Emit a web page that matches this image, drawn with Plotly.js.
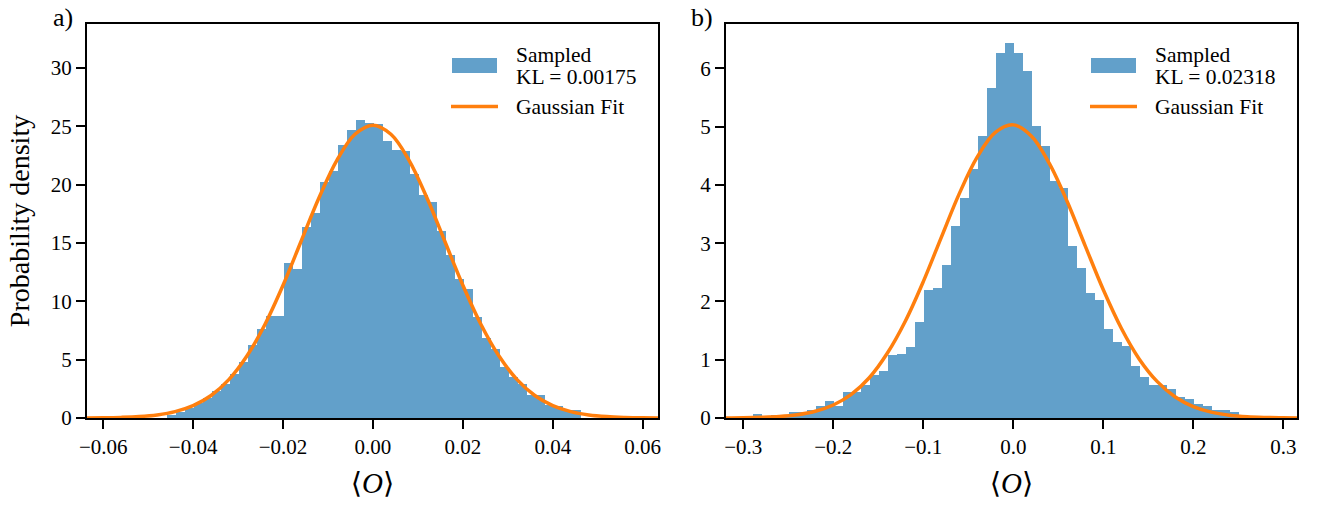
<!DOCTYPE html>
<html>
<head>
<meta charset="utf-8">
<script src="https://cdn.plot.ly/plotly-3.0.1.min.js"></script>
<style>
  html, body { margin: 0; padding: 0; background: #ffffff; }
  #chart { width: 1318px; height: 506px; }
</style>
</head>
<body>
<div id="chart"></div>
<script>
// ---------------- data: panel a) ----------------
var aBinCenters = [-0.0448, -0.0428, -0.0408, -0.0388, -0.0368, -0.0348, -0.0328, -0.0308, -0.0288, -0.0268,
                   -0.0248, -0.0228, -0.0208, -0.0188, -0.0168, -0.0148, -0.0128, -0.0108, -0.0088, -0.0068,
                   -0.0048, -0.0028, -0.0008, 0.0012, 0.0032, 0.0052, 0.0072, 0.0092, 0.0112, 0.0132,
                   0.0152, 0.0172, 0.0192, 0.0212, 0.0232, 0.0252, 0.0272, 0.0292, 0.0312, 0.0332,
                   0.0352, 0.0372, 0.0392, 0.0412, 0.0432, 0.0452];
var aDensity = [0.30, 0.55, 0.90, 1.25, 1.75, 2.31, 2.91, 3.74, 4.77, 6.26,
                7.60, 8.74, 8.74, 13.26, 12.77, 16.40, 17.54, 20.26, 21.20, 23.40,
                24.69, 25.54, 25.26, 25.20, 23.77, 23.00, 22.90, 20.90, 19.10, 18.50,
                16.06, 13.97, 11.90, 11.06, 8.69, 6.83, 5.89, 4.40, 3.54, 2.91,
                1.97, 1.97, 1.11, 1.05, 0.70, 0.65];
var aBinWidth = 0.002;
var aFitX = [-0.064, -0.060, -0.056, -0.052, -0.048, -0.044, -0.040, -0.036, -0.032, -0.028, -0.024,
             -0.020, -0.016, -0.012, -0.008, -0.004, 0.000, 0.004, 0.008, 0.012, 0.016, 0.020,
             0.024, 0.028, 0.032, 0.036, 0.040, 0.044, 0.048, 0.052, 0.056, 0.060, 0.064];
var aFitY = [0.008, 0.020, 0.051, 0.120, 0.263, 0.546, 1.06, 1.93, 3.31, 5.33, 8.04,
             11.38, 15.13, 18.88, 22.11, 24.32, 25.10, 24.32, 22.11, 18.88, 15.13, 11.38,
             8.04, 5.33, 3.31, 1.93, 1.06, 0.546, 0.263, 0.120, 0.051, 0.020, 0.008];
var aXTicks = [-0.06, -0.04, -0.02, 0.00, 0.02, 0.04, 0.06];
var aXTickText = ["\u22120.06", "\u22120.04", "\u22120.02", "0.00", "0.02", "0.04", "0.06"];
var aYTicks = [0, 5, 10, 15, 20, 25, 30];
var aYTickText = ["0", "5", "10", "15", "20", "25", "30"];
var aKL = "0.00175";

// ---------------- data: panel b) ----------------
var bBinCenters = [-0.294, -0.284, -0.274, -0.264, -0.254, -0.244, -0.234, -0.224, -0.214, -0.204,
                   -0.194, -0.184, -0.174, -0.164, -0.154, -0.144, -0.134, -0.124, -0.114, -0.104,
                   -0.094, -0.084, -0.074, -0.064, -0.054, -0.044, -0.034, -0.024, -0.014, -0.004,
                   0.006, 0.016, 0.026, 0.036, 0.046, 0.056, 0.066, 0.076, 0.086, 0.096,
                   0.106, 0.116, 0.126, 0.136, 0.146, 0.156, 0.166, 0.176, 0.186, 0.196,
                   0.206, 0.216, 0.226, 0.236, 0.246, 0.256];
var bDensity = [0.04, 0.07, 0.04, 0.05, 0.06, 0.10, 0.10, 0.13, 0.20, 0.29,
                0.21, 0.44, 0.44, 0.57, 0.73, 0.80, 1.08, 1.10, 1.22, 1.64,
                2.20, 2.23, 2.63, 3.30, 3.78, 4.28, 4.84, 5.67, 6.26, 6.43,
                6.26, 5.95, 5.01, 4.67, 4.07, 3.95, 2.95, 2.58, 2.15, 2.03,
                1.52, 1.30, 1.24, 0.89, 0.70, 0.56, 0.56, 0.49, 0.36, 0.32,
                0.24, 0.20, 0.14, 0.13, 0.10, 0.04];
var bBinWidth = 0.01;
var bFitX = [-0.32, -0.30, -0.28, -0.26, -0.24, -0.22, -0.20, -0.18, -0.16, -0.14, -0.12,
             -0.10, -0.08, -0.06, -0.04, -0.02, 0.00, 0.02, 0.04, 0.06, 0.08, 0.10,
             0.12, 0.14, 0.16, 0.18, 0.20, 0.22, 0.24, 0.26, 0.28, 0.30, 0.32];
var bFitY = [0.001, 0.004, 0.011, 0.025, 0.056, 0.115, 0.223, 0.405, 0.691, 1.11, 1.66,
             2.34, 3.10, 3.85, 4.48, 4.90, 5.03, 4.84, 4.37, 3.71, 2.95, 2.20,
             1.54, 1.01, 0.624, 0.361, 0.196, 0.100, 0.048, 0.021, 0.009, 0.004, 0.001];
var bXTicks = [-0.3, -0.2, -0.1, 0.0, 0.1, 0.2, 0.3];
var bXTickText = ["\u22120.3", "\u22120.2", "\u22120.1", "0.0", "0.1", "0.2", "0.3"];
var bYTicks = [0, 1, 2, 3, 4, 5, 6];
var bYTickText = ["0", "1", "2", "3", "4", "5", "6"];
var bKL = "0.02318";

var seriesNames = ["Sampled", "Gaussian Fit"];
var panelLabels = ["a)", "b)"];
var xTitle = "\u27E8<i>O</i>\u27E9";
var yTitle = "Probability density";

// ---------------- style / layout ----------------
var W = 1318, H = 506;
function px(x) { return x / W; }
function py(y) { return 1 - y / H; }
var FONT = "Liberation Serif, DejaVu Serif, serif";
var BAR_COLOR = "rgba(31,119,180,0.7)";
var LINE_COLOR = "#ff7f0e";

var traces = [
  { type: "bar", x: aBinCenters, y: aDensity, width: aBinWidth, xaxis: "x", yaxis: "y",
    name: seriesNames[0], marker: { color: BAR_COLOR, line: { width: 0 } }, hoverinfo: "x+y" },
  { type: "scatter", mode: "lines", x: aFitX, y: aFitY, xaxis: "x", yaxis: "y",
    name: seriesNames[1], line: { color: LINE_COLOR, width: 3.5, shape: "spline", smoothing: 1 } },
  { type: "bar", x: bBinCenters, y: bDensity, width: bBinWidth, xaxis: "x2", yaxis: "y2",
    name: seriesNames[0], marker: { color: BAR_COLOR, line: { width: 0 } }, hoverinfo: "x+y" },
  { type: "scatter", mode: "lines", x: bFitX, y: bFitY, xaxis: "x2", yaxis: "y2",
    name: seriesNames[1], line: { color: LINE_COLOR, width: 3.5, shape: "spline", smoothing: 1 } }
];

function xAxis(domain, range, vals, text) {
  return {
    domain: domain, range: range, tickmode: "array", tickvals: vals, ticktext: text,
    ticks: "outside", ticklen: 9, tickwidth: 2, tickcolor: "#000",
    showline: true, linewidth: 2, linecolor: "#000", mirror: true,
    showgrid: false, zeroline: false,
    tickfont: { family: FONT, size: 21, color: "#000" },
    title: { text: xTitle, font: { family: FONT, size: 29, color: "#000" }, standoff: 14 }
  };
}
function yAxis(domain, range, vals, text, withTitle) {
  var ax = {
    domain: domain, range: range, tickmode: "array", tickvals: vals, ticktext: text,
    ticks: "outside", ticklen: 9, tickwidth: 2, tickcolor: "#000",
    showline: true, linewidth: 2, linecolor: "#000", mirror: true,
    showgrid: false, zeroline: false,
    tickfont: { family: FONT, size: 21, color: "#000" }
  };
  if (withTitle) {
    ax.title = { text: yTitle, font: { family: FONT, size: 28, color: "#000" }, standoff: 13 };
  }
  return ax;
}

var yDom = [py(418), py(24)];
var layout = {
  width: W, height: H,
  margin: { l: 0, r: 0, t: 0, b: 0 },
  paper_bgcolor: "#ffffff", plot_bgcolor: "#ffffff",
  showlegend: false, bargap: 0, barmode: "overlay",
  font: { family: FONT, color: "#000" },
  xaxis: Object.assign(xAxis([px(87), px(658)], [-0.0636, 0.0634], aXTicks, aXTickText), { anchor: "y" }),
  yaxis: Object.assign(yAxis(yDom, [0, 33.77], aYTicks, aYTickText, true), { anchor: "x" }),
  xaxis2: Object.assign(xAxis([px(726), px(1297)], [-0.3192, 0.3152], bXTicks, bXTickText), { anchor: "y2" }),
  yaxis2: Object.assign(yAxis(yDom, [0, 6.761], bYTicks, bYTickText, false), { anchor: "x2" }),
  shapes: [],
  annotations: []
};

// hand-placed legends (matplotlib style) and panel labels
var offsets = [0, 639];
var kls = [aKL, bKL];
offsets.forEach(function (dx, i) {
  layout.shapes.push({ type: "rect", xref: "paper", yref: "paper",
    x0: px(452 + dx), x1: px(497 + dx), y0: py(73), y1: py(58),
    fillcolor: BAR_COLOR, line: { width: 0 } });
  layout.shapes.push({ type: "line", xref: "paper", yref: "paper",
    x0: px(451 + dx), x1: px(498 + dx), y0: py(106.5), y1: py(106.5),
    line: { color: LINE_COLOR, width: 3.5 } });
  var txt = [seriesNames[0], "KL = " + kls[i], seriesNames[1]];
  var ys = [55, 76.5, 107];
  txt.forEach(function (t, j) {
    layout.annotations.push({ xref: "paper", yref: "paper", x: px(514 + dx), y: py(ys[j]),
      xanchor: "left", yanchor: "middle", showarrow: false, text: t,
      font: { family: FONT, size: 21.5, color: "#000" } });
  });
  layout.annotations.push({ xref: "paper", yref: "paper", x: px(63 + dx), y: py(17),
    xanchor: "center", yanchor: "middle", showarrow: false, text: panelLabels[i],
    font: { family: FONT, size: 26, color: "#000" } });
});

Plotly.newPlot("chart", traces, layout, { staticPlot: true, displayModeBar: false });
</script>
</body>
</html>
